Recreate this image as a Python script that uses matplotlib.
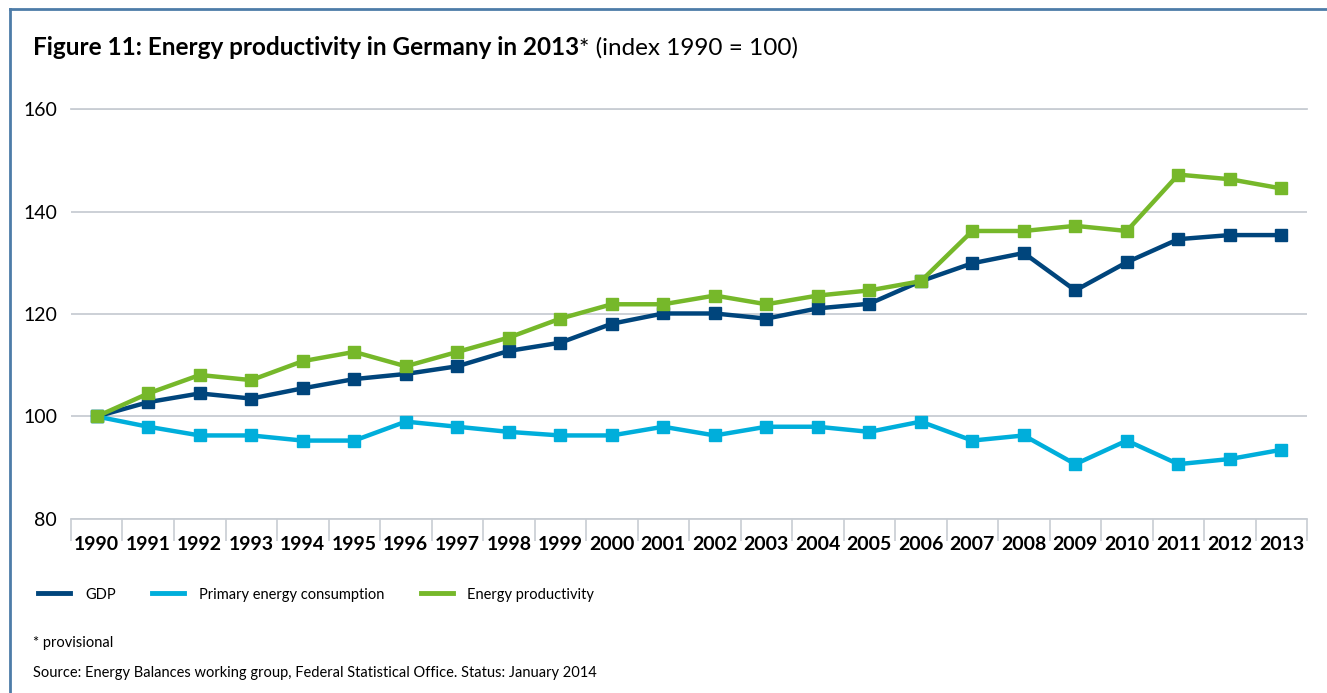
import matplotlib
matplotlib.use('Agg')
import matplotlib.pyplot as plt
from matplotlib.lines import Line2D

plt.rcParams['font.family'] = ['Lato', 'DejaVu Sans']

# Data (index 1990 = 100)
years = list(range(1990, 2014))
gdp = [100, 102.8, 104.5, 103.5, 105.5, 107.3, 108.3, 109.8, 112.8, 114.4,
       118.1, 120.1, 120.1, 119.1, 121.1, 122.0, 126.4, 129.9, 131.9, 124.6,
       130.1, 134.6, 135.4, 135.4]
pec = [100, 98.0, 96.3, 96.3, 95.3, 95.3, 99.0, 98.0, 97.0, 96.3,
       96.3, 98.0, 96.3, 98.0, 98.0, 97.0, 99.0, 95.3, 96.3, 90.7,
       95.3, 90.7, 91.7, 93.5]
prod = [100, 104.5, 108.1, 107.1, 110.8, 112.6, 109.8, 112.6, 115.4, 119.1,
        121.9, 121.9, 123.6, 121.9, 123.6, 124.6, 126.4, 136.2, 136.2, 137.2,
        136.2, 147.2, 146.3, 144.5]

series = [('GDP', gdp, '#00457c'),
          ('Primary energy consumption', pec, '#00aedb'),
          ('Energy productivity', prod, '#76b82a')]

fig = plt.figure(figsize=(13.27, 6.93), dpi=100)
ax = fig.add_axes([0.0535, 0.2511, 0.9315, 0.5916])

for name, vals, col in series:
    ax.plot(years, vals, color=col, linewidth=3.2, marker='s', markersize=8,
            label=name, zorder=3)

ax.set_xlim(1989.5, 2013.5)
ax.set_ylim(80, 160)
ax.set_yticks([80, 100, 120, 140, 160])
ax.set_xticks(years)
ax.set_xticklabels([str(y) for y in years], fontweight='bold', fontsize=14)
ax.set_xticks([y + 0.5 for y in range(1989, 2014)], minor=True)
ax.tick_params(axis='x', which='major', length=0, pad=12)
ax.tick_params(axis='x', which='minor', length=16, color='#c8cdd3', width=1.2)
ax.tick_params(axis='y', length=0, labelsize=14, pad=10)
ax.grid(axis='y', color='#c8cdd3', linewidth=1.3, zorder=0)
ax.axhline(160, color='#c8cdd3', linewidth=1.3, clip_on=False, zorder=0)
for s in ['top', 'right', 'left']:
    ax.spines[s].set_visible(False)
ax.spines['bottom'].set_color('#c8cdd3')
ax.spines['bottom'].set_linewidth(1.3)

# Title
t = fig.text(0.0249, 0.931, 'Figure 11: Energy productivity in Germany in 2013',
             fontsize=17.5, fontweight='bold', va='center', ha='left')
fig.canvas.draw()
bb = t.get_window_extent()
fig.text(bb.x1 / fig.bbox.width, 0.931, '* (index 1990 = 100)', fontsize=17.5,
         va='center', ha='left')

# Legend
handles = [Line2D([], [], color=c, linewidth=3.5) for _, _, c in series]
fig.legend(handles, [n for n, _, _ in series], loc='center left',
           bbox_to_anchor=(0.019, 0.142), ncol=3, frameon=False, fontsize=10.5,
           handlelength=2.2, columnspacing=2.5, handletextpad=1.0)

fig.text(0.0249, 0.072, '* provisional', fontsize=10.5, va='center')
fig.text(0.0249, 0.029, 'Source: Energy Balances working group, Federal Statistical Office. '
         'Status: January 2014', fontsize=10.5, va='center')

# Frame (left and top edges)
frame = '#4d7ca8'
fig.lines.append(Line2D([0.0072, 0.0072], [0, 0.987], color=frame, linewidth=2,
                        transform=fig.transFigure))
fig.lines.append(Line2D([0.0072, 1.0], [0.987, 0.987], color=frame, linewidth=2,
                        transform=fig.transFigure))

fig.savefig('out.png', dpi=100)
